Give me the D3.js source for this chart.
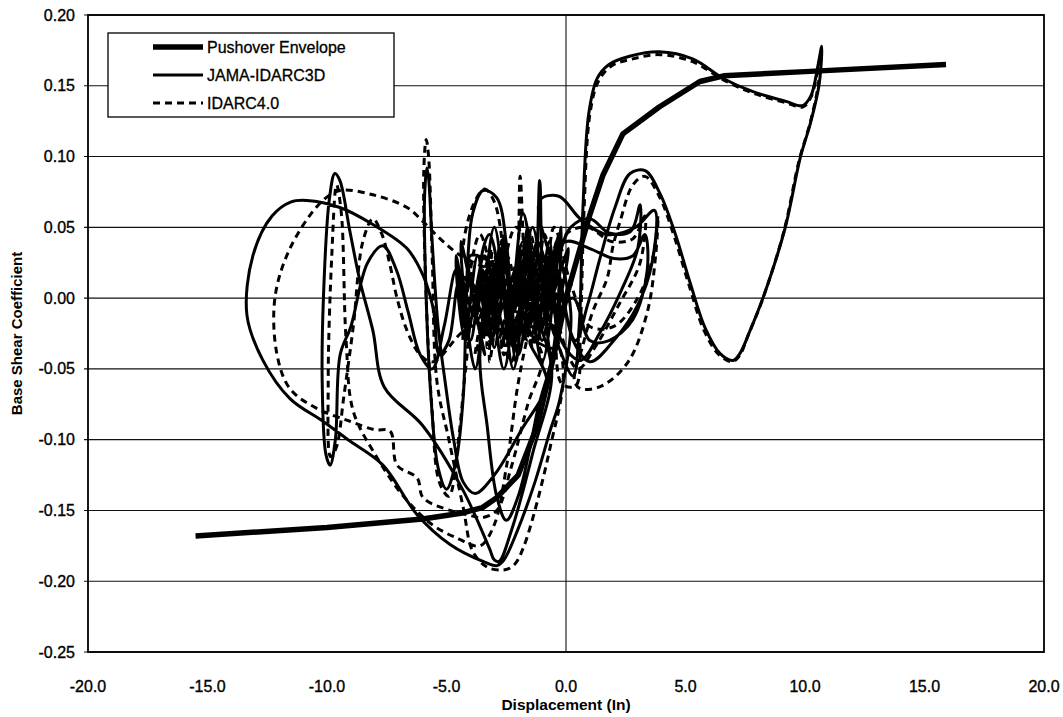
<!DOCTYPE html>
<html>
<head>
<meta charset="utf-8">
<script src="https://cdn.jsdelivr.net/npm/d3@7"></script>
<style>
  body { margin: 0; background: #fff; }
  svg text { font-family: "Liberation Sans", Arial, sans-serif; fill: #000; }
</style>
</head>
<body>
<div id="chart"></div>
<script>
'use strict'

// axis ticks
let xTicks = [-20, -15, -10, -5, 0, 5, 10, 15, 20]
let yTicks = [-0.25, -0.20, -0.15, -0.10, -0.05, 0.00, 0.05, 0.10, 0.15, 0.20]

let seriesNames = ['Pushover Envelope', 'JAMA-IDARC3D', 'IDARC4.0']

// [displacement (in), base shear coefficient]
let pushover = [
  [-15.5, -0.168], [-10, -0.162], [-6, -0.156], [-4.4, -0.152], [-3.5, -0.148],
  [-2.9, -0.141], [-2.0, -0.125], [-1.2, -0.09], [-0.5, -0.04], [0, 0],
  [0.5, 0.03], [1.0, 0.059], [1.55, 0.087], [2.38, 0.116], [3.9, 0.135],
  [5.6, 0.153], [6.6, 0.157], [10, 0.160], [15.9, 0.165]
]

let jama = [
  [0.0, 0.000], [0.4, 0.025], [-0.4, -0.020], [0.1, 0.035], [-0.9, -0.015], [-0.3, 0.045],
  [-1.3, -0.025], [-0.6, 0.030], [-1.8, -0.030], [-1.0, 0.025], [-2.3, -0.020], [-1.5, 0.045],
  [-2.7, -0.035], [-1.9, 0.030], [-3.1, -0.025], [-2.5, 0.040], [-3.6, -0.030], [-2.9, 0.020],
  [-4.0, 0.030], [-3.4, -0.040], [-4.4, 0.040], [-3.8, -0.050], [-3.0, 0.050], [-2.2, -0.050],
  [-1.4, 0.050], [-0.6, -0.040], [-0.2, 0.050], [-1.0, -0.045], [-1.8, 0.040], [-2.6, -0.050],
  [-3.4, 0.030], [-4.2, -0.030], [-4.6, 0.030], [-3.9, -0.020], [-3.3, 0.020], [-2.4, -0.030],
  [-1.7, -0.010], [-0.8, 0.005],
  [0.2, 0.050], [1.0, 0.056], [1.8, 0.046], [2.7, 0.047], [3.1, 0.066], [3.0, 0.035],
  [2.3, 0.005], [1.4, -0.025], [0.6, -0.044], [-0.2, -0.030],
  [-0.7, 0.040], [-1.2, -0.030], [-1.6, 0.050], [-2.1, -0.045], [-2.6, 0.040], [-3.1, -0.030],
  [-3.6, 0.020], [-3.2, 0.045], [-2.4, -0.010], [-1.8, 0.060], [-1.3, 0.020], [-1.1, 0.083],
  [-0.9, 0.000], [-0.4, -0.030],
  [0.3, -0.055], [0.55, -0.020], [0.7, 0.060], [0.95, 0.130], [1.3, 0.155], [1.8, 0.165],
  [2.7, 0.171], [3.9, 0.174], [5.3, 0.169], [6.6, 0.155], [7.8, 0.146], [9.2, 0.139],
  [9.9, 0.136], [10.25, 0.143], [10.55, 0.165], [10.7, 0.178], [10.6, 0.152], [10.25, 0.125],
  [9.8, 0.099], [9.16, 0.049], [8.24, 0.000], [7.7, -0.023], [7.28, -0.039], [6.99, -0.044],
  [6.44, -0.039], [5.82, -0.021], [5.19, 0.011], [4.56, 0.046], [3.93, 0.074], [3.31, 0.090],
  [2.68, 0.088], [2.05, 0.064], [1.42, 0.028], [0.9, -0.005], [0.4, -0.030],
  [-0.3, 0.010], [-1.1, 0.069], [-0.3, 0.072], [0.6, 0.056], [1.7, 0.045], [2.9, 0.050],
  [3.7, 0.062], [3.6, 0.025], [3.0, -0.005], [2.0, -0.030], [1.0, -0.045], [0.3, -0.030],
  [-0.4, 0.020], [-1.0, -0.030], [-1.6, 0.035], [-2.2, -0.035], [-2.8, 0.030], [-3.3, -0.020],
  [-2.7, 0.035], [-2.0, -0.040], [-1.2, 0.040], [-0.5, -0.035], [-1.5, -0.030],
  [-0.8, -0.059], [-1.9, -0.094], [-3.0, -0.125], [-3.8, -0.138], [-4.3, -0.130],
  [-4.7, -0.100], [-5.05, -0.060], [-5.35, -0.020], [-5.6, 0.040], [-5.75, 0.085], [-5.82, 0.092],
  [-5.92, 0.070], [-5.85, 0.000], [-5.65, -0.070], [-5.35, -0.120], [-5.0, -0.135], [-4.6, -0.115],
  [-4.3, -0.070], [-4.2, -0.020], [-4.1, 0.030], [-3.9, 0.060], [-3.47, 0.076], [-2.9, 0.071],
  [-2.47, 0.035], [-2.2, -0.010], [-1.6, 0.030], [-1.0, -0.020], [-0.4, 0.030], [0.2, -0.010],
  [-0.25, -0.071], [-0.67, -0.094], [-1.3, -0.130], [-2.05, -0.165], [-2.6, -0.185], [-2.89, -0.189],
  [-3.47, -0.186], [-4.85, -0.174], [-6.23, -0.153], [-7.66, -0.118], [-9.04, -0.101], [-10.17, -0.087],
  [-11.55, -0.071], [-12.68, -0.044], [-13.35, -0.012], [-13.1, 0.030], [-12.3, 0.058], [-11.5, 0.068],
  [-10.84, 0.069], [-9.46, 0.064], [-8.08, 0.052], [-6.65, 0.035], [-5.98, 0.016], [-5.56, -0.007],
  [-5.3, -0.040], [-4.9, -0.030], [-4.5, 0.010], [-4.0, -0.030], [-3.5, 0.020], [-3.0, -0.035],
  [-2.5, 0.025], [-2.0, -0.040], [-1.5, -0.010],
  [-0.6, -0.050], [-1.4, -0.110], [-2.3, -0.165], [-2.8, -0.186], [-3.0, -0.185], [-3.2, -0.177],
  [-4.3, -0.136], [-6.0, -0.090], [-7.6, -0.063], [-8.08, -0.023], [-8.62, 0.012], [-9.04, 0.047],
  [-9.46, 0.083], [-9.67, 0.088], [-9.9, 0.070], [-10.15, 0.000], [-10.2, -0.060], [-10.05, -0.110],
  [-9.87, -0.118], [-9.65, -0.100], [-9.45, -0.040], [-9.0, -0.020], [-8.3, 0.025], [-7.66, 0.037],
  [-7.1, 0.020], [-6.6, -0.010], [-6.1, -0.040], [-5.6, -0.050], [-5.1, -0.020], [-4.6, 0.020],
  [-4.2, -0.020], [-3.7, 0.030], [-3.2, -0.020], [-2.7, 0.020], [-2.2, -0.020],
  [-0.5, -0.020], [-1.2, -0.080], [-2.0, -0.140], [-2.5, -0.157], [-2.9, -0.140], [-3.3, -0.090],
  [-3.6, -0.040], [-3.0, 0.010], [-2.0, -0.010], [-1.0, 0.020], [0.0, 0.040], [1.0, 0.035],
  [2.0, 0.028], [2.8, 0.030], [3.3, 0.045], [3.4, 0.020], [2.8, -0.015], [1.8, -0.030],
  [1.0, -0.030], [0.3, 0.000], [-0.5, -0.010], [-1.3, 0.030], [-2.1, -0.025], [-2.9, 0.025],
  [-3.7, -0.015], [-4.3, 0.015], [-3.5, 0.000], [-2.5, 0.010], [-1.5, -0.005]
]

let idarc = [
  [0.0, 0.000], [0.3, 0.020], [-0.5, -0.025], [0.0, 0.030], [-1.0, -0.020], [-0.4, 0.040],
  [-1.4, -0.030], [-0.7, 0.035], [-1.9, -0.025], [-1.2, 0.030], [-2.4, -0.030], [-1.7, 0.040],
  [-2.8, -0.030], [-2.0, 0.025], [-3.3, -0.035], [-2.6, 0.045], [-3.8, -0.040], [-3.1, 0.035],
  [-4.3, -0.030], [-3.6, 0.045], [-2.3, -0.045], [-1.5, 0.045], [-0.9, -0.005],
  [0.0, 0.045], [0.9, 0.050], [1.9, 0.040], [2.8, 0.042], [3.3, 0.058], [3.1, 0.025],
  [2.2, -0.005], [1.2, -0.035], [0.5, -0.050], [-0.3, -0.020],
  [-0.9, 0.045], [-1.4, -0.035], [-1.75, 0.030], [-1.92, 0.086], [-2.05, 0.020], [-2.6, -0.040],
  [-3.0, 0.030], [-3.5, -0.030], [-4.0, 0.020], [-4.3, 0.030], [-3.9, 0.065], [-3.4, 0.077],
  [-3.0, 0.068], [-2.6, 0.030], [-2.4, -0.020], [-1.8, 0.030], [-1.2, -0.030], [-0.5, 0.010],
  [-0.2, -0.060], [0.4, -0.062], [0.6, -0.020], [0.75, 0.060], [1.0, 0.130], [1.35, 0.153],
  [1.9, 0.164], [2.8, 0.169], [3.9, 0.172], [5.3, 0.167], [6.6, 0.154], [7.8, 0.145],
  [9.2, 0.138], [9.9, 0.135], [10.25, 0.142], [10.55, 0.163], [10.65, 0.172], [10.55, 0.150],
  [10.2, 0.123], [9.75, 0.097], [9.1, 0.046], [8.2, -0.002], [7.65, -0.025], [7.25, -0.041],
  [6.95, -0.045], [6.4, -0.040], [5.78, -0.023], [5.15, 0.009], [4.52, 0.044], [3.9, 0.072],
  [3.3, 0.086], [2.8, 0.080], [2.26, 0.054], [1.97, 0.037], [1.72, 0.014], [1.13, -0.009],
  [0.71, -0.033], [0.35, -0.058], [0.6, -0.064], [1.5, -0.062], [2.6, -0.045], [3.4, -0.010],
  [3.75, 0.030], [3.85, 0.058], [3.65, 0.030], [3.0, 0.000], [2.0, -0.020], [1.0, -0.020],
  [0.2, 0.010],
  [-0.5, 0.050], [-1.0, -0.020], [-1.5, 0.040], [-2.0, -0.030], [-2.7, 0.040], [-3.2, -0.045],
  [-2.1, 0.050], [-1.0, 0.000],
  [-0.12, -0.049], [-0.67, -0.106], [-1.8, -0.177], [-2.2, -0.189], [-2.6, -0.192], [-3.3, -0.190],
  [-3.9, -0.179], [-4.3, -0.148], [-4.9, -0.100], [-5.4, -0.059], [-5.6, 0.030], [-5.75, 0.100],
  [-5.85, 0.112], [-5.95, 0.090], [-5.85, 0.000], [-5.6, -0.080], [-5.3, -0.130], [-4.9, -0.140],
  [-4.5, -0.100], [-4.2, -0.050], [-3.8, 0.000], [-3.2, -0.030], [-2.8, 0.020], [-2.2, -0.030],
  [-1.6, 0.020], [-3.0, 0.020], [-4.4, 0.030], [-5.27, 0.042], [-5.98, 0.054], [-6.65, 0.064],
  [-8.08, 0.073], [-9.46, 0.076], [-10.29, 0.067], [-11.55, 0.035], [-12.18, 0.000], [-12.09, -0.040],
  [-11.55, -0.064], [-10.42, -0.078], [-9.04, -0.087], [-8.0, -0.093], [-7.36, -0.094], [-7.07, -0.118],
  [-6.23, -0.127], [-5.98, -0.141], [-4.85, -0.150], [-4.14, -0.153], [-3.5, -0.155], [-2.9, -0.150],
  [-2.3, -0.120], [-1.6, -0.075], [-1.0, -0.040], [-2.0, -0.020], [-4.0, -0.020],
  [-5.56, -0.045], [-6.1, -0.040], [-6.65, -0.023], [-7.07, 0.000], [-7.36, 0.023], [-7.7, 0.045],
  [-8.08, 0.056], [-8.5, 0.040], [-8.9, -0.020], [-9.3, -0.070], [-9.6, -0.105], [-9.85, -0.112],
  [-9.95, -0.060], [-9.8, 0.030], [-9.6, 0.080], [-9.4, 0.060], [-9.2, -0.030], [-8.9, -0.080],
  [-8.0, -0.110], [-6.8, -0.140], [-5.6, -0.160], [-4.5, -0.170], [-3.6, -0.175], [-3.0, -0.160],
  [-2.5, -0.120], [-2.0, -0.060], [-1.5, -0.020], [-0.8, 0.020], [-1.6, -0.030], [-2.5, 0.030],
  [-3.4, -0.025], [-4.1, 0.010], [-3.0, 0.000], [0.0, 0.000]
]

let width = 1063
let height = 717
let plot = { left: 88, right: 1044, top: 15, bottom: 652 }

let svg = d3.select('#chart').append('svg')
  .attr('width', width)
  .attr('height', height)

svg.append('rect').attr('width', width).attr('height', height).attr('fill', '#fff')

let x = d3.scaleLinear().domain([-20, 20]).range([plot.left, plot.right])
let y = d3.scaleLinear().domain([-0.25, 0.20]).range([plot.bottom, plot.top])

// horizontal gridlines
svg.append('g')
  .selectAll('line')
  .data(yTicks)
  .enter()
  .append('line')
  .attr('x1', plot.left - 4)
  .attr('x2', plot.right)
  .attr('y1', d => y(d))
  .attr('y2', d => y(d))
  .attr('stroke', '#111')
  .attr('stroke-width', 1.1)

// vertical line at zero displacement
svg.append('line')
  .attr('x1', x(0)).attr('x2', x(0))
  .attr('y1', plot.top).attr('y2', plot.bottom)
  .attr('stroke', '#111')
  .attr('stroke-width', 1.1)

// y tick labels
svg.append('g')
  .selectAll('text')
  .data(yTicks)
  .enter()
  .append('text')
  .attr('x', plot.left - 13)
  .attr('y', d => y(d) + 5.5)
  .attr('text-anchor', 'end')
  .attr('font-size', 16)
  .attr('stroke', '#000')
  .attr('stroke-width', 0.35)
  .text(d => d.toFixed(2))

// x tick labels
svg.append('g')
  .selectAll('text')
  .data(xTicks)
  .enter()
  .append('text')
  .attr('x', d => x(d))
  .attr('y', 692)
  .attr('text-anchor', 'middle')
  .attr('font-size', 16)
  .attr('stroke', '#000')
  .attr('stroke-width', 0.35)
  .text(d => d.toFixed(1))

// axis titles
svg.append('text')
  .attr('x', x(0))
  .attr('y', 710)
  .attr('text-anchor', 'middle')
  .attr('font-size', 15.5)
  .attr('font-weight', 'bold')
  .text('Displacement (In)')

svg.append('text')
  .attr('text-anchor', 'middle')
  .attr('transform', 'translate(22,' + ((plot.top + plot.bottom) / 2) + ')rotate(-90)')
  .attr('font-size', 15)
  .attr('font-weight', 'bold')
  .text('Base Shear Coefficient')

// clip for the data
svg.append('clipPath').attr('id', 'clip')
  .append('rect')
  .attr('x', plot.left).attr('y', plot.top)
  .attr('width', plot.right - plot.left).attr('height', plot.bottom - plot.top)

let smooth = d3.line()
  .x(d => x(d[0]))
  .y(d => y(d[1]))
  .curve(d3.curveCatmullRom.alpha(0.5))

let straight = d3.line()
  .x(d => x(d[0]))
  .y(d => y(d[1]))

let data = svg.append('g').attr('clip-path', 'url(#clip)')

data.append('path')
  .attr('d', smooth(idarc))
  .attr('fill', 'none')
  .attr('stroke', '#000')
  .attr('stroke-width', 3)
  .attr('stroke-dasharray', '7,5')

data.append('path')
  .attr('d', smooth(jama))
  .attr('fill', 'none')
  .attr('stroke', '#000')
  .attr('stroke-width', 3)
  .attr('stroke-linejoin', 'round')

data.append('path')
  .attr('d', straight(pushover))
  .attr('fill', 'none')
  .attr('stroke', '#000')
  .attr('stroke-width', 5.5)
  .attr('stroke-linejoin', 'round')

// plot frame
svg.append('rect')
  .attr('x', plot.left).attr('y', plot.top)
  .attr('width', plot.right - plot.left).attr('height', plot.bottom - plot.top)
  .attr('fill', 'none')
  .attr('stroke', '#000')
  .attr('stroke-width', 1.8)

// legend
let legendBox = { x: 108, y: 33, w: 286, h: 84 }
let legendStyles = [
  { width: 5.5, dash: null },
  { width: 3, dash: null },
  { width: 3, dash: '7,5' }
]

svg.append('rect')
  .attr('x', legendBox.x).attr('y', legendBox.y)
  .attr('width', legendBox.w).attr('height', legendBox.h)
  .attr('fill', '#fff')
  .attr('stroke', '#000')
  .attr('stroke-width', 1.3)

let legend = svg.selectAll('.legend')
  .data(seriesNames)
  .enter()
  .append('g')
  .attr('class', 'legend')
  .attr('transform', (d, i) => 'translate(153,' + (47 + i * 28) + ')')

legend.append('line')
  .attr('x1', 0).attr('x2', 50)
  .attr('stroke', '#000')
  .attr('stroke-width', (d, i) => legendStyles[i].width)
  .attr('stroke-dasharray', (d, i) => legendStyles[i].dash)

legend.append('text')
  .attr('x', 54)
  .attr('y', 6)
  .attr('font-size', 16)
  .attr('stroke', '#000')
  .attr('stroke-width', 0.3)
  .text(d => d)
</script>
</body>
</html>
